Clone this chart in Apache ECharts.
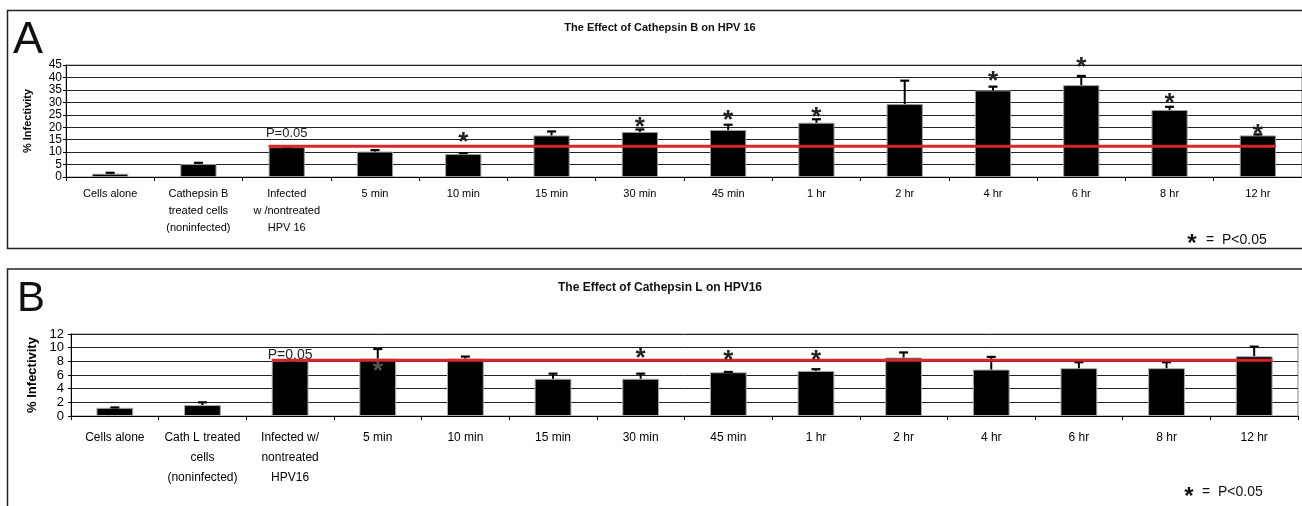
<!DOCTYPE html>
<html>
<head>
<meta charset="utf-8">
<script src="https://cdn.jsdelivr.net/npm/echarts@6/dist/echarts.min.js"></script>
<style>
html,body{margin:0;padding:0;background:#fff;}
#chart{width:1302px;height:506px;}
</style>
</head>
<body>
<div id="chart"></div>
<script>
// ---------- Panel A data ----------
const categoriesA = ['Cells alone', 'Cathepsin B\ntreated cells\n(noninfected)', 'Infected\nw /nontreated\nHPV 16',
  '5 min', '10 min', '15 min', '30 min', '45 min', '1 hr', '2 hr', '4 hr', '6 hr', '8 hr', '12 hr'];
const valuesA = [1.3, 5.2, 12.0, 10.2, 9.2, 16.7, 18.1, 18.9, 21.8, 29.3, 34.8, 36.9, 26.9, 16.7];
const errTopA = [1.7, 5.7, 12.2, 10.8, 9.6, 18.3, 19.1, 21.0, 23.2, 38.7, 36.3, 40.6, 28.2, 17.1];
const starIndexA = [4, 6, 7, 8, 10, 11, 12, 13];
const starValueA = [16.1, 22.1, 24.9, 26.1, 40.8, 46.2, 31.7, 19.3];
const pLineA = 12.4;
const yTicksA = [0, 45, 5];

// ---------- Panel B data ----------
const categoriesB = ['Cells alone', 'Cath L treated\ncells\n(noninfected)', 'Infected w/\nnontreated\nHPV16',
  '5 min', '10 min', '15 min', '30 min', '45 min', '1 hr', '2 hr', '4 hr', '6 hr', '8 hr', '12 hr'];
const valuesB = [1.2, 1.6, 8.1, 8.4, 8.4, 5.45, 5.45, 6.4, 6.6, 8.55, 6.8, 7.0, 7.0, 8.75];
const errTopB = [1.25, 2.0, 8.1, 9.8, 8.7, 6.2, 6.2, 6.45, 6.85, 9.3, 8.65, 7.87, 7.87, 10.15];
const starIndexB = [3, 6, 7, 8];
const starValueB = [7.33, 9.3, 9.0, 9.0];
const starColorB = ['#555', '#222', '#222', '#222'];
const pLineB = 8.16;
const yTicksB = [0, 12, 2];

const titleA = 'The Effect of Cathepsin B on HPV 16';
const titleB = 'The Effect of Cathepsin L on HPV16';
const pText = 'P=0.05';
const legendText = '=  P<0.05';

const FONT = '"Liberation Sans", Arial, Helvetica, sans-serif';

function errRender(params, api) {
  const i = api.value(0), v = api.value(1), e = api.value(2);
  const p0 = api.coord([i, v]);
  const p1 = api.coord([i, e]);
  const cap = 4.5;
  return {
    type: 'group',
    children: [
      { type: 'line', shape: { x1: p0[0], y1: p0[1], x2: p1[0], y2: p1[1] }, style: { stroke: '#000', lineWidth: 2 } },
      { type: 'line', shape: { x1: p1[0] - cap, y1: p1[1], x2: p1[0] + cap, y2: p1[1] }, style: { stroke: '#000', lineWidth: 2.2 } }
    ]
  };
}

function pLineRenderFactory(barFrac, textOffset, fontSize) {
  return function (params, api) {
    const s = api.coord([api.value(0), api.value(2)]);
    const e = api.coord([api.value(1), api.value(2)]);
    const band = api.size([1, 0])[0];
    const half = band * barFrac / 2;
    return {
      type: 'group',
      children: [
        { type: 'line', shape: { x1: s[0] - half, y1: s[1], x2: e[0] + half, y2: e[1] }, style: { stroke: '#d8262a', lineWidth: 3 } },
        { type: 'text', style: { text: pText, x: s[0], y: s[1] - textOffset, align: 'center', verticalAlign: 'middle', fontSize: fontSize, fontFamily: FONT, fill: '#222' } }
      ]
    };
  };
}

function starRenderFactory(colors) {
  return function (params, api) {
    const p = api.coord([api.value(0), api.value(1)]);
    return {
      type: 'text',
      style: { text: '*', x: p[0], y: p[1] + 6, align: 'center', verticalAlign: 'middle', fontSize: 26, fontWeight: 'bold', fontFamily: FONT, fill: colors ? colors[params.dataIndex] : '#222' }
    };
  };
}

const chart = echarts.init(document.getElementById('chart'), null, { renderer: 'canvas' });

function xAxisCfg(gridIndex, cats, fontSize, lineHeight, margin) {
  return {
    type: 'category', gridIndex: gridIndex, data: cats,
    axisLine: { lineStyle: { color: '#000', width: 1 } },
    axisTick: { show: true, length: 4, lineStyle: { color: '#000' } },
    axisLabel: { interval: 0, fontSize: fontSize, lineHeight: lineHeight, margin: margin, color: '#000', fontFamily: FONT },
    splitLine: { show: false }
  };
}
function yAxisCfg(gridIndex, ticks, fontSize, lineHeight, nameSize, nameGap, margin) {
  return {
    type: 'value', gridIndex: gridIndex, min: ticks[0], max: ticks[1], interval: ticks[2],
    name: '% Infectivity', nameLocation: 'middle', nameGap: nameGap, nameRotate: 90,
    nameTextStyle: { fontSize: nameSize, fontWeight: 'bold', fontFamily: FONT, color: '#000' },
    axisLine: { show: true, lineStyle: { color: '#000', width: 1 } },
    axisTick: { show: true, length: 3, lineStyle: { color: '#000' } },
    axisLabel: { fontSize: fontSize, margin: margin, color: '#000', fontFamily: FONT, lineHeight: lineHeight,
      showMinLabel: true, showMaxLabel: true, hideOverlap: false },
    splitLine: { show: true, lineStyle: { color: '#222', width: 1 } }
  };
}

const option = {
  animation: false,
  backgroundColor: '#fff',
  grid: [
    { left: 66, top: 65, width: 1236, height: 112, show: true, borderColor: '#888', borderWidth: 1, containLabel: false },
    { left: 71, top: 334, width: 1227, height: 82, show: true, borderColor: '#888', borderWidth: 1, containLabel: false }
  ],
  xAxis: [
    xAxisCfg(0, categoriesA, 11, 17, 8),
    xAxisCfg(1, categoriesB, 12, 20, 12)
  ],
  yAxis: [
    yAxisCfg(0, yTicksA, 12, 12, 11, 33, 4),
    yAxisCfg(1, yTicksB, 13, 13, 13, 32, 7)
  ],
  series: [
    { type: 'bar', xAxisIndex: 0, yAxisIndex: 0, data: valuesA, barWidth: '41%',
      itemStyle: { color: '#000', borderColor: '#999', borderWidth: 1 }, z: 2 },
    { type: 'custom', xAxisIndex: 0, yAxisIndex: 0, renderItem: errRender, encode: { x: 0, y: [1, 2] },
      data: valuesA.map((v, i) => [i, v, errTopA[i]]), z: 3 },
    { type: 'custom', xAxisIndex: 0, yAxisIndex: 0, renderItem: pLineRenderFactory(0.41, 13, 13), encode: { x: [0, 1], y: 2 },
      data: [[2, 13, pLineA]], z: 4, clip: false },
    { type: 'custom', xAxisIndex: 0, yAxisIndex: 0, renderItem: starRenderFactory(null), encode: { x: 0, y: 1 },
      data: starIndexA.map((c, k) => [c, starValueA[k]]), z: 5, clip: false },

    { type: 'bar', xAxisIndex: 1, yAxisIndex: 1, data: valuesB, barWidth: '42%',
      itemStyle: { color: '#000', borderColor: '#aaa', borderWidth: 1 }, z: 2 },
    { type: 'custom', xAxisIndex: 1, yAxisIndex: 1, renderItem: errRender, encode: { x: 0, y: [1, 2] },
      data: valuesB.map((v, i) => [i, v, errTopB[i]]), z: 3 },
    { type: 'custom', xAxisIndex: 1, yAxisIndex: 1, renderItem: pLineRenderFactory(0.42, 5, 14), encode: { x: [0, 1], y: 2 },
      data: [[2, 13, pLineB]], z: 4, clip: false },
    { type: 'custom', xAxisIndex: 1, yAxisIndex: 1, renderItem: starRenderFactory(starColorB), encode: { x: 0, y: 1 },
      data: starIndexB.map((c, k) => [c, starValueB[k]]), z: 5, clip: false }
  ],
  graphic: [
    { type: 'rect', shape: { x: 7.5, y: 10.5, width: 1310, height: 238 }, style: { fill: 'transparent', stroke: '#222', lineWidth: 1.5 }, z: 0 },
    { type: 'rect', shape: { x: 7.5, y: 269, width: 1310, height: 260 }, style: { fill: 'transparent', stroke: '#222', lineWidth: 1.5 }, z: 0 },
    { type: 'text', x: 13, y: 18, style: { text: 'A', fontSize: 45, fontFamily: FONT, fill: '#111' } },
    { type: 'text', x: 17, y: 278, style: { text: 'B', fontSize: 42, fontFamily: FONT, fill: '#111' } },
    { type: 'text', x: 660, y: 28, style: { text: titleA, fontSize: 11, fontWeight: 'bold', fontFamily: FONT, fill: '#111', align: 'center', verticalAlign: 'middle' } },
    { type: 'text', x: 660, y: 288, style: { text: titleB, fontSize: 12, fontWeight: 'bold', fontFamily: FONT, fill: '#111', align: 'center', verticalAlign: 'middle' } },
    { type: 'text', x: 1192, y: 244, style: { text: '*', fontSize: 24, fontWeight: 'bold', fontFamily: FONT, fill: '#111', align: 'center', verticalAlign: 'middle' } },
    { type: 'text', x: 1206, y: 240, style: { text: legendText, fontSize: 14, fontFamily: FONT, fill: '#111', align: 'left', verticalAlign: 'middle' } },
    { type: 'text', x: 1189, y: 497, style: { text: '*', fontSize: 24, fontWeight: 'bold', fontFamily: FONT, fill: '#111', align: 'center', verticalAlign: 'middle' } },
    { type: 'text', x: 1202, y: 492, style: { text: legendText, fontSize: 14, fontFamily: FONT, fill: '#111', align: 'left', verticalAlign: 'middle' } }
  ]
};
chart.setOption(option);
</script>
</body>
</html>
